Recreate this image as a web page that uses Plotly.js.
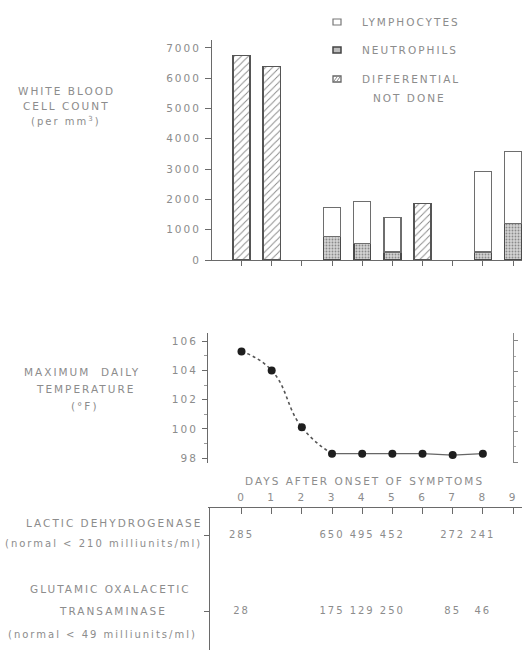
<!DOCTYPE html>
<html><head><meta charset="utf-8">
<script src="https://cdn.plot.ly/plotly-3.0.1.min.js"></script>
<style>
html,body{margin:0;padding:0;background:#fff}
#chart{width:524px;height:650px}
text{letter-spacing:2px}
</style>
</head><body><div id="chart"></div>
<script>
// ---- data ----
const days = [0, 1, 2, 3, 4, 5, 6, 7, 8, 9];
const dayTickLabels = ['0', '1', '2', '3', '4', '5', '6', '7', '8', '9'];
const diffDays = [3, 4, 5, 8, 9];
const neutrophils = [770, 540, 270, 270, 1200];
const lymphocytes = [960, 1390, 1130, 2650, 2390];
const notDoneDays = [0, 1, 6];
const notDone = [6750, 6380, 1860];
const wbcTicks = [0, 1000, 2000, 3000, 4000, 5000, 6000, 7000];
const tempDays = [0, 1, 2, 3, 4, 5, 6, 7, 8];
const tempF = [105.3, 104.0, 100.1, 98.3, 98.3, 98.3, 98.3, 98.2, 98.3];
const tempTicks = [98, 100, 102, 104, 106];
const labDays = [0, 3, 4, 5, 7, 8];
const ldh = [285, 650, 495, 452, 272, 241];
const got = [28, 175, 129, 250, 85, 46];
const labRows = ['GOT', 'LDH'];

// ---- helpers (pixel -> paper) ----
const W = 524, H = 650;
const P = x => x / W;
const Q = y => 1 - y / H;
const day0Px = 241.5, pxPerDay = 30.17;
const L = 208, R = 522;
const dayRange = [(L - day0Px) / pxPerDay, (R - day0Px) / pxPerDay];

const txt = '#8c8c8c';
const axc = '#6a6a6a';
const FF = 'DejaVu Sans, sans-serif';

const traces = [
  {type: 'bar', x: diffDays, y: neutrophils, xaxis: 'x', yaxis: 'y', width: 0.56,
   marker: {color: '#cfcfcf', pattern: {shape: '.', fgcolor: '#8a8a8a', bgcolor: '#d4d4d4', size: 3, solidity: 0.3},
            line: {color: '#4a4a4a', width: 1.6}}, hoverinfo: 'skip'},
  {type: 'bar', x: diffDays, y: lymphocytes, xaxis: 'x', yaxis: 'y', width: 0.56,
   marker: {color: '#ffffff', line: {color: '#6e6e6e', width: 1.4}}, hoverinfo: 'skip'},
  {type: 'bar', x: notDoneDays, y: notDone, xaxis: 'x', yaxis: 'y', width: 0.58,
   marker: {color: '#ffffff', pattern: {shape: '/', fgcolor: '#888888', bgcolor: '#ffffff', size: 5, solidity: 0.18},
            line: {color: '#555555', width: 1.6}}, hoverinfo: 'skip'},
  {type: 'scatter', mode: 'lines', x: tempDays.slice(0, 4), y: tempF.slice(0, 4), xaxis: 'x2', yaxis: 'y2',
   line: {shape: 'spline', smoothing: 1.3, dash: 'dot', color: '#555', width: 1.6}, hoverinfo: 'skip'},
  {type: 'scatter', mode: 'lines', x: tempDays.slice(3), y: tempF.slice(3), xaxis: 'x2', yaxis: 'y2',
   line: {color: '#666', width: 1.4}, hoverinfo: 'skip'},
  {type: 'scatter', mode: 'markers', x: tempDays, y: tempF, xaxis: 'x2', yaxis: 'y2',
   marker: {color: '#1e1e1e', size: 8}, hoverinfo: 'skip'},
  {type: 'scatter', mode: 'markers', x: [], y: [], xaxis: 'x2', yaxis: 'y3', hoverinfo: 'skip'},
  {type: 'scatter', mode: 'text', x: labDays, y: ldh.map(() => 'LDH'), text: ldh.map(String), xaxis: 'x3', yaxis: 'y4',
   textfont: {family: FF, size: 10, color: txt}, hoverinfo: 'skip'},
  {type: 'scatter', mode: 'text', x: labDays, y: got.map(() => 'GOT'), text: got.map(String), xaxis: 'x3', yaxis: 'y4',
   textfont: {family: FF, size: 10, color: txt}, hoverinfo: 'skip'}
];

const ann = (x, y, text, xanchor, size) => ({xref: 'paper', yref: 'paper', x: P(x), y: Q(y), text: text,
  xanchor: xanchor || 'center', yanchor: 'middle', showarrow: false, font: {family: FF, size: size || 10.5, color: txt}});

const annotations = [
  ann(66, 91, 'WHITE BLOOD'), ann(66, 106, 'CELL COUNT'), ann(66, 121, '(per mm<sup>3</sup>)', 'center', 10),
  ann(82, 372, 'MAXIMUM  DAILY'), ann(85, 389, 'TEMPERATURE'), ann(84, 406, '(°F)'),
  ann(364, 481, 'DAYS AFTER ONSET OF SYMPTOMS'),
  ann(204, 523, 'LACTIC DEHYDROGENASE', 'right'), ann(204, 543, '(normal < 210 milliunits/ml)', 'right', 10),
  ann(110, 589, 'GLUTAMIC OXALACETIC'), ann(113, 611, 'TRANSAMINASE'), ann(102, 634, '(normal < 49 milliunits/ml)', 'center', 10),
  ann(360, 22, 'LYMPHOCYTES', 'left'), ann(360, 50, 'NEUTROPHILS', 'left'),
  ann(360, 79, 'DIFFERENTIAL', 'left'), ann(409, 98, 'NOT DONE')
];

const rectPx = (x0, y0, x1, y1, line, fill) => ({type: 'rect', xref: 'paper', yref: 'paper',
  x0: P(x0), x1: P(x1), y0: Q(y1), y1: Q(y0), line: line, fillcolor: fill});
const linePx = (x0, y0, x1, y1, color) => ({type: 'line', xref: 'paper', yref: 'paper',
  x0: P(x0), x1: P(x1), y0: Q(y0), y1: Q(y1), line: {color: color, width: 1}});

const shapes = [
  rectPx(333, 19, 341, 25, {color: '#777', width: 1.2}, '#fff'),
  rectPx(333, 47, 341, 53, {color: '#444', width: 1.5}, '#bdbdbd'),
  rectPx(333, 76, 341, 82, {color: '#666', width: 1.3}, '#fff'),
  linePx(334, 81, 337, 77, '#888'), linePx(337, 81, 340, 77, '#888')
];

const common = {showgrid: false, zeroline: false};
const layout = {
  width: W, height: H, autosize: false,
  margin: {l: 0, r: 0, t: 0, b: 0, pad: 0},
  paper_bgcolor: '#fff', plot_bgcolor: 'rgba(0,0,0,0)',
  showlegend: false, barmode: 'stack', bargap: 0,
  font: {family: FF, color: txt, size: 10.5},
  xaxis: Object.assign({}, common, {domain: [P(L), P(R)], range: dayRange, anchor: 'y',
    showline: true, linecolor: axc, linewidth: 1, ticks: 'outside', tickvals: days, ticklen: 5,
    tickcolor: axc, showticklabels: false, fixedrange: true}),
  yaxis: Object.assign({}, common, {domain: [Q(260), Q(40)], range: [0, 7260], anchor: 'free', position: P(211),
    showline: true, linecolor: axc, ticks: 'outside', ticklen: 6, tickcolor: axc, tickvals: wbcTicks,
    tickfont: {family: FF, size: 10.5, color: txt}, ticklabelstandoff: 2}),
  xaxis2: Object.assign({}, common, {domain: [P(L), P(R)], range: dayRange, anchor: 'y2', visible: false}),
  yaxis2: Object.assign({}, common, {domain: [Q(463), Q(333)], range: [97.66, 106.56], anchor: 'free', position: P(207),
    showline: true, linecolor: axc, ticks: 'outside', ticklen: 5, tickcolor: axc, tickvals: tempTicks,
    minor: {dtick: 1, tick0: 97, ticks: 'outside', ticklen: 3, tickcolor: '#999'},
    tickfont: {family: FF, size: 10.5, color: txt}, ticklabelstandoff: 2}),
  yaxis3: Object.assign({}, common, {overlaying: 'y2', side: 'right', anchor: 'free', position: P(513),
    range: [-0.033, 4.264], tick0: 0, dtick: 1, showticklabels: false, showline: true, linecolor: '#888',
    ticks: 'outside', ticklen: 4, tickcolor: '#888',
    minor: {dtick: 0.5, tick0: 0, ticks: 'outside', ticklen: 2, tickcolor: '#aaa'}}),
  xaxis3: Object.assign({}, common, {domain: [P(L), P(R)], range: dayRange, anchor: 'y4', side: 'top',
    showline: true, linecolor: axc, ticks: 'inside', ticklen: 6, tickcolor: axc, tickvals: days, ticktext: dayTickLabels,
    tickfont: {family: FF, size: 10.5, color: txt}, ticklabelstandoff: 2}),
  yaxis4: Object.assign({}, common, {domain: [0, Q(508)], type: 'category', categoryarray: labRows,
    range: [-0.494, 1.351], anchor: 'free', position: P(209), showline: true, linecolor: axc,
    ticks: 'outside', ticklen: 5, tickcolor: axc, showticklabels: false}),
  annotations: annotations,
  shapes: shapes
};

Plotly.newPlot('chart', traces, layout, {staticPlot: true, displayModeBar: false});
</script>
</body></html>
